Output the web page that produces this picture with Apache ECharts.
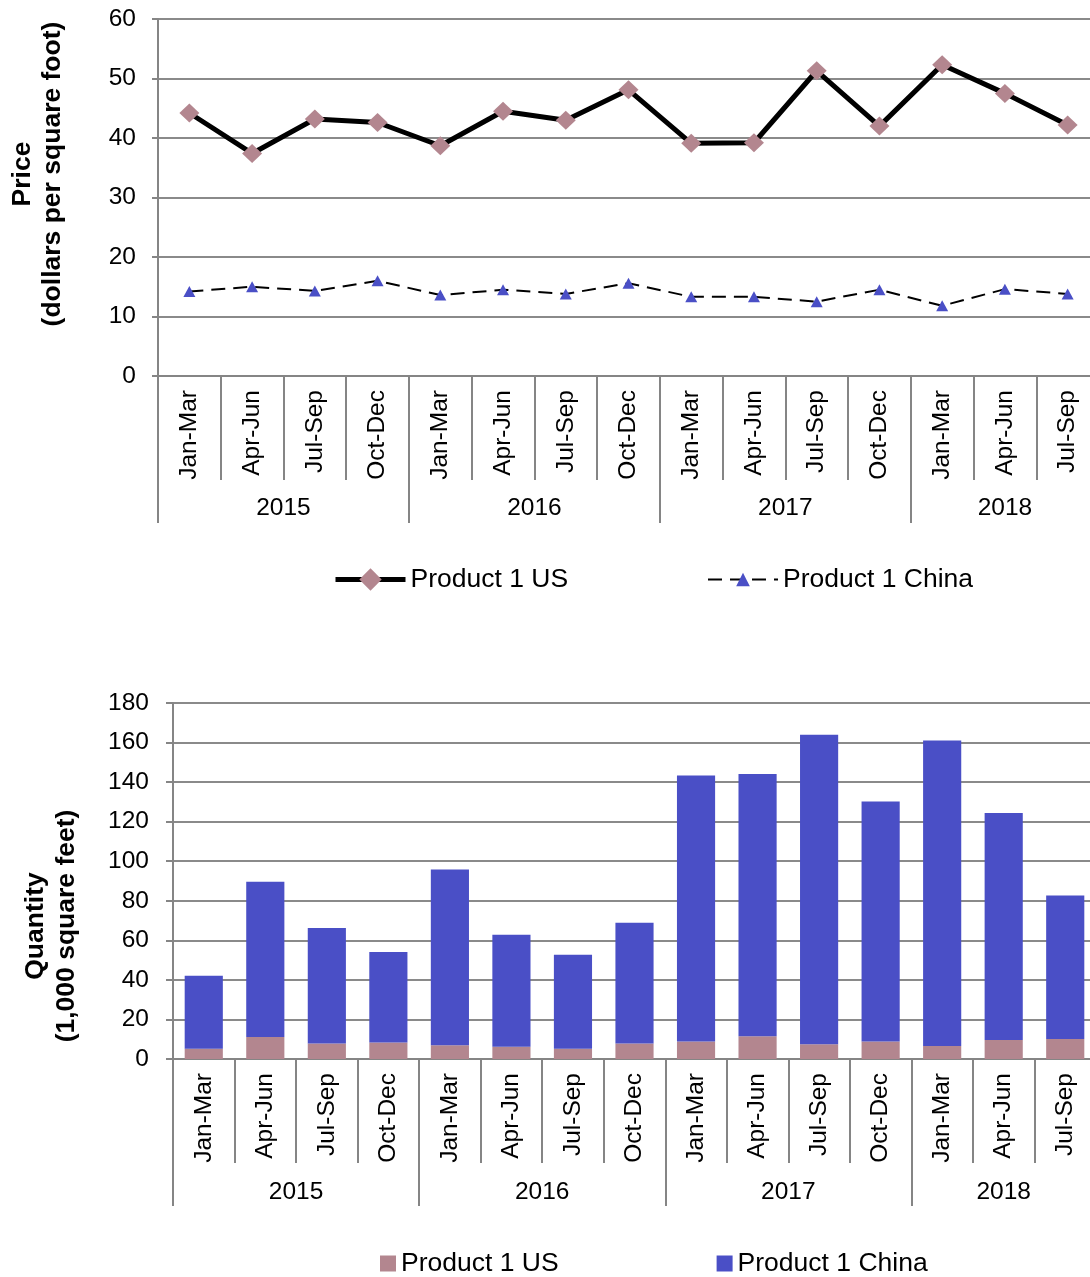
<!DOCTYPE html>
<html>
<head>
<meta charset="utf-8">
<script src="https://cdn.jsdelivr.net/npm/echarts@6/dist/echarts.min.js"></script>
<style>
  html, body { margin: 0; padding: 0; background: #fff; }
  #price { position: absolute; left: 0; top: 0; width: 1090px; height: 640px; }
  #qty { position: absolute; left: 0; top: 640px; width: 1090px; height: 637px; }
</style>
</head>
<body>
<div id="price"></div>
<div id="qty"></div>
<script>
// Quarterly periods
const quarters = ['Jan-Mar', 'Apr-Jun', 'Jul-Sep', 'Oct-Dec',
                  'Jan-Mar', 'Apr-Jun', 'Jul-Sep', 'Oct-Dec',
                  'Jan-Mar', 'Apr-Jun', 'Jul-Sep', 'Oct-Dec',
                  'Jan-Mar', 'Apr-Jun', 'Jul-Sep'];
const quarterYears = ['2015', '2015', '2015', '2015',
                      '2016', '2016', '2016', '2016',
                      '2017', '2017', '2017', '2017',
                      '2018', '2018', '2018'];

// Price (dollars per square foot)
const priceUS    = [44.2, 37.4, 43.2, 42.6, 38.7, 44.5, 43.0, 48.1, 39.1, 39.2, 51.3, 42.0, 52.3, 47.5, 42.2];
const priceChina = [14.2, 15.0, 14.3, 16.0, 13.6, 14.5, 13.8, 15.6, 13.3, 13.3, 12.5, 14.5, 11.8, 14.6, 13.8];

// Quantity (1,000 square feet)
const qtyUS    = [5.2, 11.1, 7.8, 8.4, 6.9, 6.2, 5.2, 7.9, 8.8, 11.5, 7.4, 8.8, 6.6, 9.6, 10.1];
const qtyChina = [36.9, 78.5, 58.4, 45.7, 88.9, 56.6, 47.5, 61.0, 134.5, 132.6, 156.6, 121.4, 154.4, 114.8, 72.6];

const seriesNames = ['Product 1 US', 'Product 1 China'];

const FONT = '"Liberation Sans", Arial, sans-serif';
const GRID_GRAY = '#8a8a8a';
const AXIS_GRAY = '#858585';
const US_COLOR = '#b3868f';
const CHINA_COLOR = '#4a4fc6';

// Year groups along the category axis: boundaries and centre positions
function yearGroups() {
  const bounds = [], centers = [], names = [];
  let start = 0;
  for (let i = 1; i <= quarterYears.length; i++) {
    if (i === quarterYears.length || quarterYears[i] !== quarterYears[start]) {
      bounds.push(start);
      centers.push((start + i) / 2);
      names.push(quarterYears[start]);
      start = i;
    }
  }
  return { bounds, centers, names };
}
const years = yearGroups();

function quarterAxis(tickLen) {
  return {
    type: 'category',
    data: quarters,
    position: 'bottom',
    boundaryGap: true,
    axisLine: { show: true, lineStyle: { color: AXIS_GRAY, width: 2 } },
    axisTick: { show: true, interval: 0, length: tickLen, lineStyle: { color: AXIS_GRAY, width: 2 } },
    axisLabel: { interval: 0, rotate: 90, margin: 14, color: '#000', fontSize: 24.5, fontFamily: FONT },
    splitLine: { show: false }
  };
}

function yearAxis(tickLen, labelMargin) {
  return {
    type: 'value',
    position: 'bottom',
    min: 0,
    max: quarters.length,
    axisLine: { show: false },
    splitLine: { show: false },
    axisTick: { show: true, customValues: years.bounds, length: tickLen,
                lineStyle: { color: AXIS_GRAY, width: 2 } },
    axisLabel: { show: true, customValues: years.centers, margin: labelMargin,
                 color: '#000', fontSize: 24.5, fontFamily: FONT,
                 formatter: v => years.names[years.centers.indexOf(v)] }
  };
}

function valueAxis(max, interval, tickLen, margin) {
  return {
    type: 'value',
    min: 0,
    max: max,
    interval: interval,
    axisLine: { show: true, lineStyle: { color: AXIS_GRAY, width: 2 } },
    axisTick: { show: true, length: tickLen, lineStyle: { color: AXIS_GRAY, width: 2 } },
    axisLabel: { color: '#000', fontSize: 24.5, fontFamily: FONT, margin: margin },
    splitLine: { show: true, lineStyle: { color: GRID_GRAY, width: 2 } }
  };
}

const legendText = { color: '#000', fontSize: 26.5, fontFamily: FONT };

// ---- Price chart ----
const priceChart = echarts.init(document.getElementById('price'), null, { renderer: 'canvas' });
priceChart.setOption({
  animation: false,
  backgroundColor: '#fff',
  grid: { left: 158, top: 19, width: 941, height: 357, containLabel: false, outerBoundsMode: 'none' },
  xAxis: [quarterAxis(104), yearAxis(147, 120)],
  yAxis: valueAxis(60, 10, 6, 22),
  legend: [{
    left: 333, top: 566, padding: 0,
    itemWidth: 70, itemHeight: 28,
    textStyle: legendText,
    data: [{ name: seriesNames[0], lineStyle: { width: 5 } }]
  }, {
    left: 707, top: 566, padding: 0,
    itemWidth: 70, itemHeight: 17,
    textStyle: legendText,
    data: [{ name: seriesNames[1], lineStyle: { width: 2 } }]
  }],
  graphic: [{
    type: 'text',
    x: 38, y: 174,
    rotation: Math.PI / 2,
    style: {
      text: 'Price\n(dollars per square foot)',
      fill: '#000',
      font: 'bold 26.5px ' + FONT,
      align: 'center',
      verticalAlign: 'middle',
      lineHeight: 30
    }
  }],
  series: [{
    name: seriesNames[0],
    type: 'line',
    data: priceUS,
    symbol: 'diamond',
    symbolSize: [20, 19],
    itemStyle: { color: US_COLOR },
    lineStyle: { color: '#000', width: 5 },
    z: 3
  }, {
    name: seriesNames[1],
    type: 'line',
    data: priceChina,
    symbol: 'triangle',
    symbolSize: [12, 11],
    itemStyle: { color: CHINA_COLOR },
    lineStyle: { color: '#000', width: 2, type: [14, 8] },
    z: 3
  }]
});

// ---- Quantity chart ----
const qtyChart = echarts.init(document.getElementById('qty'), null, { renderer: 'canvas' });
qtyChart.setOption({
  animation: false,
  backgroundColor: '#fff',
  grid: { left: 173, top: 63, width: 923, height: 356, containLabel: false, outerBoundsMode: 'none' },
  xAxis: [quarterAxis(104), yearAxis(147, 121)],
  yAxis: valueAxis(180, 20, 7, 24),
  legend: {
    left: 380, top: 610, padding: 0,
    itemWidth: 16, itemHeight: 16, itemGap: 158,
    icon: 'rect',
    textStyle: legendText,
    data: seriesNames
  },
  graphic: [{
    type: 'text',
    x: 51, y: 286,
    rotation: Math.PI / 2,
    style: {
      text: 'Quantity\n(1,000 square feet)',
      fill: '#000',
      font: 'bold 26.5px ' + FONT,
      align: 'center',
      verticalAlign: 'middle',
      lineHeight: 31
    }
  }],
  series: [{
    name: seriesNames[0],
    type: 'bar',
    stack: 'qty',
    data: qtyUS,
    barCategoryGap: '38%',
    itemStyle: { color: US_COLOR }
  }, {
    name: seriesNames[1],
    type: 'bar',
    stack: 'qty',
    data: qtyChina,
    barCategoryGap: '38%',
    itemStyle: { color: CHINA_COLOR }
  }]
});
</script>
</body>
</html>
